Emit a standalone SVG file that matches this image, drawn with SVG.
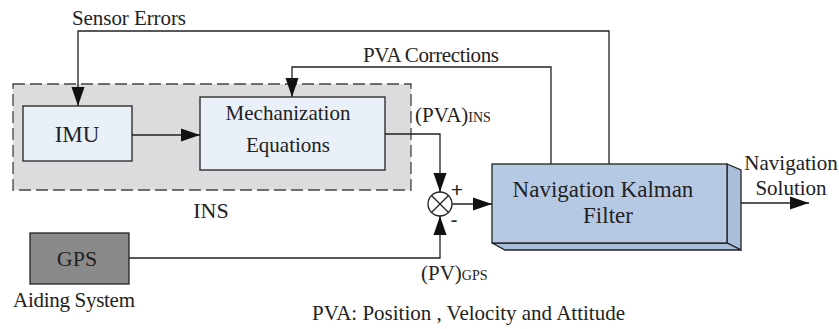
<svg xmlns="http://www.w3.org/2000/svg" width="839" height="329" viewBox="0 0 839 329">
<style>
text{font-family:"Liberation Serif","Times New Roman",serif;fill:#222;font-size:21px}
text.sym{font-family:"Liberation Sans",Arial,sans-serif}
.c{text-anchor:middle}
.ln{fill:none;stroke:#222;stroke-width:1.3}
.box{stroke:#222;stroke-width:1.3}
.sub{font-size:14px}
text.big{font-size:23px}
text.mid{font-size:22px}
</style>
<defs>
<marker id="ah" markerUnits="userSpaceOnUse" markerWidth="20" markerHeight="14" refX="19" refY="7" orient="auto" viewBox="0 0 20 14">
<path d="M0,0.5 L19,7 L0,13.5 z" fill="#111"/>
</marker>
</defs>
<g id="ins-group">
<rect x="13" y="84" width="398" height="106" fill="#dcdcde" stroke="#444" stroke-width="1.3" stroke-dasharray="12,5"/>
<text class="c mid" x="211" y="218">INS</text>
</g>
<g id="imu">
<rect class="box" x="23" y="106" width="109" height="55" fill="#e9f0f8"/>
<text class="c big" x="77" y="142">IMU</text>
</g>
<g id="mech">
<rect class="box" x="200" y="97" width="185" height="73" fill="#e9f0f8"/>
<text class="c" x="288" y="120">Mechanization</text>
<text class="c" x="288" y="152">Equations</text>
</g>
<g id="gps">
<rect class="box" x="30" y="233" width="99" height="51" fill="#8a8a8a"/>
<text class="c mid" x="77" y="266">GPS</text>
<text x="13" y="307" textLength="122">Aiding System</text>
</g>
<g id="summer">
<circle cx="440" cy="204" r="12" fill="#fff" stroke="#222" stroke-width="1.3"/>
<path d="M431.5,195.5 L448.5,212.5 M448.5,195.5 L431.5,212.5" class="ln"/>
<text x="457" y="197" class="c sym">+</text>
<text x="454" y="227" class="c sym">-</text>
</g>
<g id="kalman">
<polygon points="727,164 741,170 741,250 727,243" fill="#a9bedb" stroke="#222" stroke-width="1.3"/>
<polygon points="492,243 727,243 741,250 505,250" fill="#a9bedb" stroke="#222" stroke-width="1.3"/>
<rect class="box" x="492" y="164" width="235" height="79" fill="#b6c9e4"/>
<text class="c big" x="603" y="197">Navigation Kalman</text>
<text class="c big" x="608" y="223">Filter</text>
</g>
<g id="connectors">
<polyline class="ln" points="609,164 609,31 78,31 78,106" marker-end="url(#ah)"/>
<polyline class="ln" points="551,164 551,67 292,67 292,97" marker-end="url(#ah)"/>
<line class="ln" x1="132" y1="135" x2="200" y2="135" marker-end="url(#ah)"/>
<polyline class="ln" points="385,134 440,134 440,192" marker-end="url(#ah)"/>
<polyline class="ln" points="129,258 440,258 440,216" marker-end="url(#ah)"/>
<line class="ln" x1="452" y1="204" x2="492" y2="204" marker-end="url(#ah)"/>
<line class="ln" x1="741" y1="203" x2="809" y2="203" marker-end="url(#ah)"/>
</g>
<g id="labels">
<text x="72" y="25" textLength="114">Sensor Errors</text>
<text x="363" y="62" textLength="136">PVA Corrections</text>
<text x="415" y="122">(PVA)<tspan class="sub">INS</tspan></text>
<text x="421" y="280">(PV)<tspan class="sub">GPS</tspan></text>
<text class="c" x="791" y="170">Navigation</text>
<text class="c" x="791" y="195">Solution</text>
<text x="312" y="320" textLength="313">PVA: Position , Velocity and Attitude</text>
</g>
</svg>
